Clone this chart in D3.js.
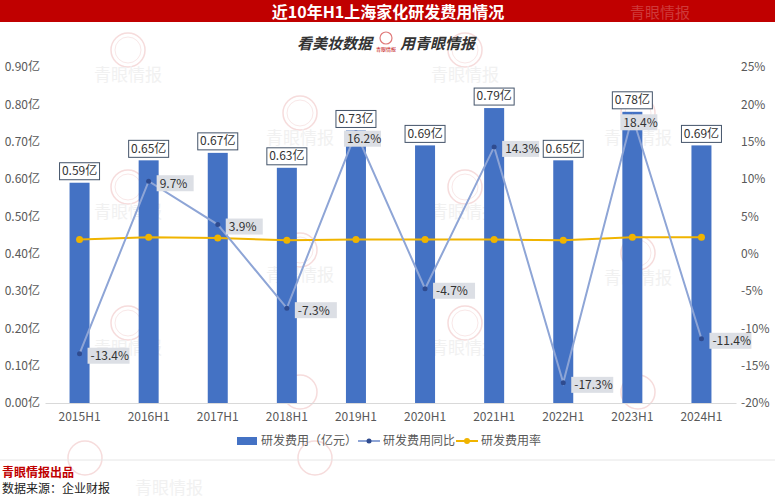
<!DOCTYPE html>
<html>
<head>
<meta charset="utf-8">
<script src="https://cdn.jsdelivr.net/npm/d3@7"></script>
<style>
  body { margin: 0; background: #fff; }
  svg { display: block; font-family: "Noto Sans CJK SC", "Noto Sans", sans-serif; }
</style>
</head>
<body>
<script>
// data
const years = ["2015H1","2016H1","2017H1","2018H1","2019H1","2020H1","2021H1","2022H1","2023H1","2024H1"]
const spend = [0.59, 0.65, 0.67, 0.63, 0.73, 0.69, 0.79, 0.65, 0.78, 0.69]   // 亿元
const growth = [-13.4, 9.7, 3.9, -7.3, 16.2, -4.7, 14.3, -17.3, 18.4, -11.4] // %
const rate = [1.9, 2.2, 2.1, 1.8, 1.9, 1.9, 1.9, 1.8, 2.2, 2.2]               // %
const leftTicks = [0, 0.1, 0.2, 0.3, 0.4, 0.5, 0.6, 0.7, 0.8, 0.9]
const rightTicks = [-20, -15, -10, -5, 0, 5, 10, 15, 20, 25]

const W = 775, H = 500
const svg = d3.select("body").append("svg").attr("width", W).attr("height", H)

// watermarks (faint)
const wm = svg.append("g")
const marks = [[128,50],[465,50],[300,113],[638,113],[128,187],[465,187],[300,250],[638,253],[128,323],[465,323]]
marks.forEach(([x, y]) => {
  wm.append("circle").attr("cx", x).attr("cy", y).attr("r", 17)
    .attr("fill", "none").attr("stroke", "#f6dcdc").attr("stroke-width", 1.5)
  wm.append("circle").attr("cx", x).attr("cy", y).attr("r", 13)
    .attr("fill", "none").attr("stroke", "#f9e8e8").attr("stroke-width", 1)
  wm.append("text").attr("x", x).attr("y", y + 31).attr("text-anchor", "middle")
    .attr("font-size", 17).attr("fill", "#f1f1f1").text("青眼情报")
})
;[[300,392],[638,392],[85,458],[315,458]].forEach(([x, y]) => {
  wm.append("circle").attr("cx", x).attr("cy", y).attr("r", 17)
    .attr("fill", "none").attr("stroke", "#f6dcdc").attr("stroke-width", 1.5)
})

// title bar
svg.append("rect").attr("x", 0).attr("y", 0).attr("width", W).attr("height", 22).attr("fill", "#c00000")
svg.append("text").attr("x", 660).attr("y", 18).attr("text-anchor", "middle")
  .attr("font-size", 15).attr("fill", "#cf3a3a").text("青眼情报")
svg.append("text").attr("x", 388).attr("y", 18).attr("text-anchor", "middle")
  .attr("font-size", 16).attr("font-weight", "bold").attr("fill", "#fff")
  .text("近10年H1上海家化研发费用情况")

// slogan
svg.append("text").attr("x", 372).attr("y", 49).attr("text-anchor", "end")
  .attr("font-size", 15).attr("font-weight", "bold").attr("font-style", "italic")
  .attr("fill", "#333").text("看美妆数据")
svg.append("circle").attr("cx", 386).attr("cy", 38).attr("r", 6)
  .attr("fill", "none").attr("stroke", "#e07a7a").attr("stroke-width", 1.2)
svg.append("text").attr("x", 386).attr("y", 51).attr("text-anchor", "middle")
  .attr("font-size", 5).attr("fill", "#c00000").text("青眼情报")
svg.append("text").attr("x", 400).attr("y", 49)
  .attr("font-size", 15).attr("font-weight", "bold").attr("font-style", "italic")
  .attr("fill", "#333").text("用青眼情报")

// scales
const x = d3.scaleBand().domain(years).range([45, 736]).paddingInner(0.71).paddingOuter(0.355)
const yL = d3.scaleLinear().domain([0, 0.9]).range([403, 67])
const yR = d3.scaleLinear().domain([-20, 25]).range([403, 67])
const cx = d => x(d) + x.bandwidth() / 2

// axes
const axL = svg.append("g").attr("transform", "translate(40,0)")
  .call(d3.axisLeft(yL).tickValues(leftTicks).tickSize(0).tickPadding(0).tickFormat(d => d3.format(".2f")(d) + "亿"))
const axR = svg.append("g").attr("transform", "translate(741,0)")
  .call(d3.axisRight(yR).tickValues(rightTicks).tickSize(0).tickPadding(0).tickFormat(d => d + "%"))
const axB = svg.append("g").attr("transform", "translate(0,403)")
  .call(d3.axisBottom(x).tickSize(0).tickPadding(9))
;[axL, axR].forEach(a => a.select(".domain").remove())
axB.select(".domain").attr("stroke", "#d9d9d9")
svg.selectAll(".tick text").attr("font-size", 12).attr("fill", "#595959")
  .attr("font-family", "\"Noto Sans CJK SC\", sans-serif")

// bars
svg.append("g").selectAll("rect").data(spend).join("rect")
  .attr("x", (d, i) => cx(years[i]) - 10).attr("width", 20)
  .attr("y", d => yL(d)).attr("height", d => yL(0) - yL(d))
  .attr("fill", "#4472c4")

// rate line
const lineR = d3.line().x((d, i) => cx(years[i])).y(d => yR(d))
svg.append("path").datum(rate).attr("d", lineR)
  .attr("fill", "none").attr("stroke", "#f0b400").attr("stroke-width", 2)
svg.append("g").selectAll("circle").data(rate).join("circle")
  .attr("cx", (d, i) => cx(years[i])).attr("cy", d => yR(d)).attr("r", 3.5)
  .attr("fill", "#f0b400")

// growth line
svg.append("path").datum(growth).attr("d", lineR)
  .attr("fill", "none").attr("stroke", "#8ea5d6").attr("stroke-width", 2)
svg.append("g").selectAll("circle").data(growth).join("circle")
  .attr("cx", (d, i) => cx(years[i])).attr("cy", d => yR(d)).attr("r", 2.5)
  .attr("fill", "#2f4b8f")

// bar labels
const bl = svg.append("g").selectAll("g").data(spend).join("g")
  .attr("transform", (d, i) => `translate(${cx(years[i])},${yL(d) - 12})`)
bl.append("rect").attr("x", -20).attr("y", -8).attr("width", 40).attr("height", 17)
  .attr("fill", "#fff").attr("stroke", "#44546a").attr("stroke-width", 1)
bl.append("text").attr("text-anchor", "middle").attr("dy", "0.36em")
  .attr("font-size", 12).attr("fill", "#333").text(d => d.toFixed(2) + "亿")

// growth labels
const gl = svg.append("g").selectAll("g").data(growth).join("g")
  .attr("transform", (d, i) => {
    const px = cx(years[i]), py = yR(d)
    return d > 15 ? `translate(${px - 12},${py + 6})` : `translate(${px + 8},${py + 2})`
  })
gl.append("rect").attr("x", 0).attr("y", -8).attr("width", d => d < 0 ? 42 : 37).attr("height", 16)
  .attr("fill", "#dcdfe5")
gl.append("text").attr("x", 3).attr("dy", "0.36em")
  .attr("font-size", 12).attr("fill", "#333").text(d => d.toFixed(1) + "%")

// legend
const lg = svg.append("g").attr("font-size", 12).attr("fill", "#595959")
lg.append("rect").attr("x", 237).attr("y", 437).attr("width", 20).attr("height", 8).attr("fill", "#4472c4")
lg.append("text").attr("x", 261).attr("y", 445).text("研发费用（亿元）")
lg.append("line").attr("x1", 358).attr("x2", 380).attr("y1", 441).attr("y2", 441).attr("stroke", "#8ea5d6").attr("stroke-width", 2)
lg.append("circle").attr("cx", 369).attr("cy", 441).attr("r", 2.5).attr("fill", "#2f4b8f")
lg.append("text").attr("x", 383).attr("y", 445).text("研发费用同比")
lg.append("line").attr("x1", 456).attr("x2", 478).attr("y1", 441).attr("y2", 441).attr("stroke", "#f0b400").attr("stroke-width", 2)
lg.append("circle").attr("cx", 467).attr("cy", 441).attr("r", 3).attr("fill", "#f0b400")
lg.append("text").attr("x", 481).attr("y", 445).text("研发费用率")

// footer
svg.append("line").attr("x1", 0).attr("x2", W).attr("y1", 460).attr("y2", 460).attr("stroke", "#e6e6e6")
svg.append("text").attr("x", 2).attr("y", 477).attr("font-size", 12).attr("font-weight", "bold")
  .attr("fill", "#c00000").text("青眼情报出品")
svg.append("text").attr("x", 2).attr("y", 493).attr("font-size", 12).attr("fill", "#222").text("数据来源：企业财报")
svg.append("text").attr("x", 135).attr("y", 494).attr("font-size", 17).attr("fill", "#f1f1f1").text("青眼情报")
</script>
</body>
</html>
